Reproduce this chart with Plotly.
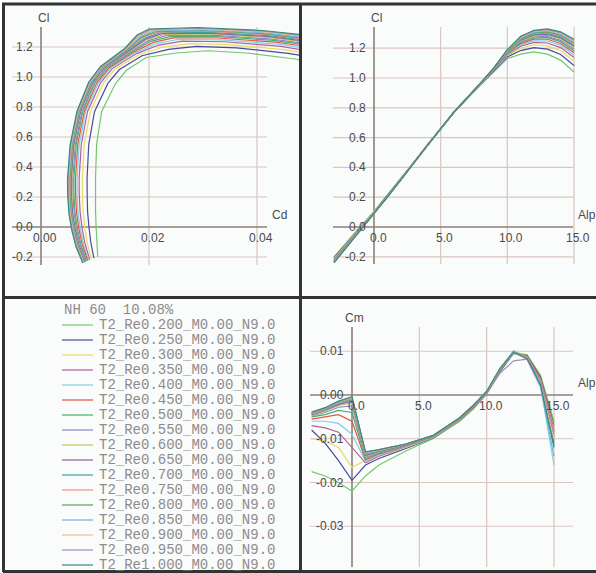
import plotly.graph_objects as go

W, H = 596, 573

# ---------------- data ----------------
FOIL_NAME = "NH 60  10.08%"
POLAR_NAMES = [
    "T2_Re0.200_M0.00_N9.0", "T2_Re0.250_M0.00_N9.0", "T2_Re0.300_M0.00_N9.0",
    "T2_Re0.350_M0.00_N9.0", "T2_Re0.400_M0.00_N9.0", "T2_Re0.450_M0.00_N9.0",
    "T2_Re0.500_M0.00_N9.0", "T2_Re0.550_M0.00_N9.0", "T2_Re0.600_M0.00_N9.0",
    "T2_Re0.650_M0.00_N9.0", "T2_Re0.700_M0.00_N9.0", "T2_Re0.750_M0.00_N9.0",
    "T2_Re0.800_M0.00_N9.0", "T2_Re0.850_M0.00_N9.0", "T2_Re0.900_M0.00_N9.0",
    "T2_Re0.950_M0.00_N9.0", "T2_Re1.000_M0.00_N9.0",
]
COLORS = [
    "#74c86c", "#4a4a9c", "#e6dc6a", "#b0609a", "#7ccfe6", "#e0583e",
    "#4cae72", "#8a88cc", "#c4c85c", "#9060b0", "#3ea0a0", "#f09088",
    "#56a656", "#6eaee6", "#f0c08a", "#a090b8", "#3a8a7a",
]

ALPHA = [-3, -2, -1, 0, 1, 2, 4, 6, 8, 9, 10, 11, 12, 13, 14, 15]

CL = [
    [-0.200, -0.095, 0.005, 0.105, 0.215, 0.325, 0.552, 0.768, 0.955, 1.045, 1.130, 1.160, 1.175, 1.160, 1.120, 1.040],
    [-0.208, -0.102, 0.000, 0.101, 0.212, 0.323, 0.551, 0.769, 0.957, 1.050, 1.142, 1.184, 1.204, 1.194, 1.158, 1.084],
    [-0.213, -0.107, -0.003, 0.098, 0.210, 0.322, 0.551, 0.769, 0.958, 1.053, 1.150, 1.200, 1.223, 1.216, 1.183, 1.113],
    [-0.218, -0.110, -0.006, 0.096, 0.208, 0.321, 0.550, 0.770, 0.959, 1.056, 1.156, 1.213, 1.239, 1.235, 1.204, 1.137],
    [-0.221, -0.113, -0.008, 0.095, 0.207, 0.320, 0.550, 0.770, 0.960, 1.058, 1.161, 1.222, 1.250, 1.248, 1.219, 1.154],
    [-0.224, -0.116, -0.010, 0.093, 0.206, 0.319, 0.550, 0.770, 0.961, 1.060, 1.165, 1.231, 1.261, 1.260, 1.232, 1.170],
    [-0.226, -0.118, -0.011, 0.092, 0.205, 0.319, 0.549, 0.771, 0.962, 1.061, 1.169, 1.238, 1.269, 1.271, 1.244, 1.183],
    [-0.228, -0.120, -0.013, 0.091, 0.205, 0.318, 0.549, 0.771, 0.962, 1.063, 1.172, 1.244, 1.277, 1.279, 1.253, 1.194],
    [-0.230, -0.121, -0.014, 0.090, 0.204, 0.318, 0.549, 0.771, 0.962, 1.064, 1.175, 1.249, 1.283, 1.287, 1.262, 1.204],
    [-0.231, -0.122, -0.015, 0.089, 0.203, 0.317, 0.549, 0.771, 0.963, 1.065, 1.177, 1.254, 1.289, 1.293, 1.269, 1.213],
    [-0.233, -0.124, -0.016, 0.089, 0.203, 0.317, 0.549, 0.771, 0.963, 1.066, 1.179, 1.258, 1.294, 1.299, 1.276, 1.220],
    [-0.234, -0.125, -0.016, 0.088, 0.202, 0.316, 0.549, 0.771, 0.964, 1.066, 1.181, 1.263, 1.299, 1.305, 1.282, 1.228],
    [-0.235, -0.126, -0.017, 0.087, 0.202, 0.316, 0.548, 0.772, 0.964, 1.067, 1.183, 1.266, 1.303, 1.310, 1.288, 1.235],
    [-0.237, -0.127, -0.018, 0.087, 0.201, 0.316, 0.548, 0.772, 0.964, 1.068, 1.185, 1.270, 1.308, 1.316, 1.294, 1.241],
    [-0.238, -0.128, -0.019, 0.086, 0.201, 0.316, 0.548, 0.772, 0.964, 1.069, 1.187, 1.273, 1.312, 1.321, 1.300, 1.248],
    [-0.239, -0.129, -0.019, 0.086, 0.200, 0.315, 0.548, 0.772, 0.965, 1.069, 1.188, 1.277, 1.316, 1.325, 1.305, 1.254],
    [-0.240, -0.130, -0.020, 0.085, 0.200, 0.315, 0.548, 0.772, 0.965, 1.070, 1.190, 1.280, 1.320, 1.330, 1.310, 1.260],
]

CD = [
    [0.01051, 0.01030, 0.01020, 0.01010, 0.01010, 0.01010, 0.01030, 0.01122, 0.01377, 0.01581, 0.0195, 0.0250, 0.0310, 0.0380, 0.0470, 0.0580],
    [0.00980, 0.00922, 0.00888, 0.00863, 0.00855, 0.00853, 0.00884, 0.00991, 0.01238, 0.01453, 0.0187, 0.0236, 0.0288, 0.0362, 0.0458, 0.0572],
    [0.00933, 0.00856, 0.00811, 0.00780, 0.00768, 0.00765, 0.00801, 0.00913, 0.01154, 0.01371, 0.0182, 0.0226, 0.0274, 0.0350, 0.0450, 0.0567],
    [0.00903, 0.00814, 0.00760, 0.00725, 0.00709, 0.00706, 0.00746, 0.00862, 0.01099, 0.01319, 0.0177, 0.0218, 0.0262, 0.0340, 0.0444, 0.0562],
    [0.00882, 0.00785, 0.00726, 0.00687, 0.00670, 0.00667, 0.00708, 0.00827, 0.01061, 0.01282, 0.0174, 0.0213, 0.0253, 0.0333, 0.0439, 0.0559],
    [0.00867, 0.00764, 0.00700, 0.00660, 0.00641, 0.00637, 0.00680, 0.00802, 0.01034, 0.01256, 0.0171, 0.0208, 0.0245, 0.0327, 0.0435, 0.0556],
    [0.00847, 0.00739, 0.00673, 0.00632, 0.00612, 0.00608, 0.00652, 0.00774, 0.01002, 0.01223, 0.0169, 0.0203, 0.0239, 0.0322, 0.0431, 0.0554],
    [0.00835, 0.00724, 0.00656, 0.00613, 0.00592, 0.00588, 0.00633, 0.00756, 0.00982, 0.01204, 0.0167, 0.0200, 0.0233, 0.0317, 0.0428, 0.0552],
    [0.00821, 0.00707, 0.00638, 0.00594, 0.00573, 0.00568, 0.00614, 0.00738, 0.00960, 0.01181, 0.0165, 0.0196, 0.0228, 0.0313, 0.0425, 0.0550],
    [0.00819, 0.00702, 0.00631, 0.00585, 0.00563, 0.00559, 0.00605, 0.00730, 0.00954, 0.01176, 0.0164, 0.0194, 0.0224, 0.0309, 0.0423, 0.0549],
    [0.00815, 0.00695, 0.00622, 0.00576, 0.00553, 0.00549, 0.00596, 0.00722, 0.00945, 0.01168, 0.0162, 0.0191, 0.0220, 0.0306, 0.0421, 0.0547],
    [0.00810, 0.00689, 0.00614, 0.00567, 0.00544, 0.00539, 0.00587, 0.00714, 0.00937, 0.01160, 0.0161, 0.0188, 0.0216, 0.0303, 0.0419, 0.0546],
    [0.00804, 0.00681, 0.00605, 0.00558, 0.00534, 0.00529, 0.00578, 0.00705, 0.00926, 0.01150, 0.0160, 0.0186, 0.0213, 0.0300, 0.0417, 0.0545],
    [0.00797, 0.00673, 0.00596, 0.00548, 0.00524, 0.00519, 0.00568, 0.00696, 0.00916, 0.01139, 0.0158, 0.0184, 0.0209, 0.0298, 0.0415, 0.0543],
    [0.00791, 0.00665, 0.00587, 0.00539, 0.00515, 0.00509, 0.00558, 0.00686, 0.00905, 0.01128, 0.0157, 0.0182, 0.0206, 0.0295, 0.0413, 0.0542],
    [0.00783, 0.00656, 0.00578, 0.00529, 0.00505, 0.00500, 0.00549, 0.00677, 0.00894, 0.01116, 0.0156, 0.0180, 0.0203, 0.0292, 0.0412, 0.0541],
    [0.00774, 0.00647, 0.00568, 0.00519, 0.00495, 0.00490, 0.00539, 0.00666, 0.00882, 0.01103, 0.0155, 0.0178, 0.0200, 0.0290, 0.0410, 0.0540],
]

CM = [
    [-0.0175, -0.0185, -0.0200, -0.0220, -0.0185, -0.0160, -0.0128, -0.0100, -0.0060, -0.0032, 0.0002, 0.0052, 0.0098, 0.0092, 0.0045, -0.0060],
    [-0.0080, -0.0110, -0.0150, -0.0195, -0.0160, -0.0145, -0.0122, -0.0098, -0.0058, -0.0030, 0.0004, 0.0055, 0.0095, 0.0090, 0.0040, -0.0070],
    [-0.0100, -0.0105, -0.0120, -0.0165, -0.0150, -0.0140, -0.0120, -0.0097, -0.0057, -0.0029, 0.0005, 0.0057, 0.0100, 0.0088, 0.0035, -0.0075],
    [-0.0070, -0.0075, -0.0085, -0.0120, -0.0155, -0.0140, -0.0118, -0.0096, -0.0056, -0.0028, 0.0005, 0.0058, 0.0099, 0.0086, 0.0030, -0.0085],
    [-0.0060, -0.0060, -0.0065, -0.0090, -0.0150, -0.0138, -0.0117, -0.0096, -0.0055, -0.0027, 0.0006, 0.0059, 0.0101, 0.0084, 0.0022, -0.0160],
    [-0.0055, -0.0050, -0.0045, -0.0060, -0.0148, -0.0135, -0.0116, -0.0095, -0.0055, -0.0027, 0.0006, 0.0059, 0.0097, 0.0088, 0.0038, -0.0080],
    [-0.0050, -0.0045, -0.0035, -0.0040, -0.0145, -0.0133, -0.0115, -0.0095, -0.0054, -0.0026, 0.0007, 0.0060, 0.0100, 0.0083, 0.0025, -0.0100],
    [-0.0048, -0.0040, -0.0028, -0.0025, -0.0142, -0.0132, -0.0115, -0.0094, -0.0054, -0.0026, 0.0007, 0.0060, 0.0098, 0.0085, 0.0028, -0.0095],
    [-0.0046, -0.0037, -0.0024, -0.0018, -0.0140, -0.0130, -0.0114, -0.0094, -0.0053, -0.0025, 0.0007, 0.0060, 0.0096, 0.0086, 0.0030, -0.0090],
    [-0.0045, -0.0035, -0.0022, -0.0014, -0.0138, -0.0129, -0.0114, -0.0094, -0.0053, -0.0025, 0.0007, 0.0060, 0.0099, 0.0082, 0.0024, -0.0105],
    [-0.0044, -0.0034, -0.0020, -0.0011, -0.0136, -0.0128, -0.0113, -0.0094, -0.0053, -0.0025, 0.0008, 0.0061, 0.0097, 0.0084, 0.0026, -0.0110],
    [-0.0043, -0.0033, -0.0019, -0.0009, -0.0135, -0.0127, -0.0113, -0.0093, -0.0053, -0.0025, 0.0008, 0.0061, 0.0095, 0.0087, 0.0032, -0.0085],
    [-0.0042, -0.0032, -0.0018, -0.0008, -0.0134, -0.0127, -0.0113, -0.0093, -0.0052, -0.0024, 0.0008, 0.0061, 0.0098, 0.0083, 0.0022, -0.0115],
    [-0.0041, -0.0031, -0.0017, -0.0007, -0.0133, -0.0126, -0.0112, -0.0093, -0.0052, -0.0024, 0.0008, 0.0061, 0.0100, 0.0081, 0.0018, -0.0140],
    [-0.0041, -0.0030, -0.0016, -0.0006, -0.0132, -0.0126, -0.0112, -0.0093, -0.0052, -0.0024, 0.0008, 0.0061, 0.0096, 0.0085, 0.0027, -0.0100],
    [-0.0040, -0.0030, -0.0015, -0.0005, -0.0131, -0.0125, -0.0112, -0.0093, -0.0052, -0.0024, 0.0006, 0.0050, 0.0078, 0.0082, 0.0035, -0.0090],
    [-0.0039, -0.0029, -0.0014, -0.0004, -0.0130, -0.0125, -0.0112, -0.0093, -0.0052, -0.0024, 0.0008, 0.0061, 0.0097, 0.0084, 0.0024, -0.0120],
]

CD_TICKS = [0.00, 0.02, 0.04]
CD_TICK_TEXT = ["0.00", "0.02", "0.04"]
CL_TICKS = [-0.2, 0.0, 0.2, 0.4, 0.6, 0.8, 1.0, 1.2]
CL_TICK_TEXT = ["-0.2", "0.0", "0.2", "0.4", "0.6", "0.8", "1.0", "1.2"]
ALPHA_TICKS = [0, 5, 10, 15]
ALPHA_TICK_TEXT = ["0.0", "5.0", "10.0", "15.0"]
CM_TICKS = [-0.03, -0.02, -0.01, 0.0, 0.01]
CM_TICK_TEXT = ["-0.03", "-0.02", "-0.01", "0.00", "0.01"]

# ---------------- layout geometry (pixels) ----------------
PANELS = {
    "tl": dict(ax="", box=(5, 6, 299, 296), ox=41, sx=5400.0, oy=227, sy=150.0,
               gx=(12, 267), gy=(27, 265), xt=CD_TICKS, xtt=CD_TICK_TEXT,
               yt=CL_TICKS, ytt=CL_TICK_TEXT, xtitle="Cd", ytitle="Cl"),
    "tr": dict(ax="2", box=(302, 6, 596, 296), ox=374, sx=200 / 15.0, oy=227, sy=149.0,
               gx=(333, 573), gy=(27, 264), xt=ALPHA_TICKS, xtt=ALPHA_TICK_TEXT,
               yt=CL_TICKS, ytt=CL_TICK_TEXT, xtitle="Alp", ytitle="Cl"),
    "br": dict(ax="3", box=(302, 299, 596, 570), ox=352, sx=202 / 15.0, oy=395, sy=4375.0,
               gx=(310, 573), gy=(327, 567), xt=ALPHA_TICKS, xtt=ALPHA_TICK_TEXT,
               yt=CM_TICKS, ytt=CM_TICK_TEXT, xtitle="Alp", ytitle="Cm"),
}
LEG_BOX = (5, 299, 299, 570)

GRID_COLOR = "#d8c6be"
AXIS_COLOR = "#8c8078"
TICK_FONT = dict(family="Liberation Sans", size=12, color="#4a4a4a")
LEG_FONT = dict(family="Liberation Mono", size=14, color="#8c8c8c")


def vx(p, px):
    return (px - p["ox"]) / p["sx"]


def vy(p, py):
    return (p["oy"] - py) / p["sy"]


fig = go.Figure()
layout = dict(width=W, height=H, margin=dict(l=0, r=0, t=0, b=0),
              paper_bgcolor="white", plot_bgcolor="#fafbfb", showlegend=False)
shapes, annotations = [], []

for key, p in PANELS.items():
    a = p["ax"]
    x0, y0, x1, y1 = p["box"]
    layout["xaxis" + a] = dict(domain=[x0 / W, x1 / W], range=[vx(p, x0), vx(p, x1)],
                               visible=False, anchor="y" + a, fixedrange=True)
    layout["yaxis" + a] = dict(domain=[1 - y1 / H, 1 - y0 / H], range=[vy(p, y1), vy(p, y0)],
                               visible=False, anchor="x" + a, fixedrange=True)
    xr, yr = "x" + a, "y" + a
    gx0, gx1 = vx(p, p["gx"][0]), vx(p, p["gx"][1])
    gy0, gy1 = vy(p, p["gy"][1]), vy(p, p["gy"][0])
    for t in p["yt"]:
        if t != 0:
            shapes.append(dict(type="line", xref=xr, yref=yr, x0=gx0, x1=gx1, y0=t, y1=t,
                               line=dict(color=GRID_COLOR, width=1.2), layer="below"))
    for t in p["xt"]:
        if t != 0:
            shapes.append(dict(type="line", xref=xr, yref=yr, x0=t, x1=t, y0=gy0, y1=gy1,
                               line=dict(color=GRID_COLOR, width=1.2), layer="below"))
    # axes
    shapes.append(dict(type="line", xref=xr, yref=yr, x0=gx0, x1=gx1, y0=0, y1=0,
                       line=dict(color=AXIS_COLOR, width=1.6), layer="below"))
    shapes.append(dict(type="line", xref=xr, yref=yr, x0=0, x1=0, y0=gy0, y1=gy1,
                       line=dict(color=AXIS_COLOR, width=1.6), layer="below"))
    # tick labels
    for t, s in zip(p["yt"], p["ytt"]):
        annotations.append(dict(xref=xr, yref=yr, x=0, y=t, text=s, showarrow=False,
                                xanchor="right", yanchor="middle", xshift=-6, font=TICK_FONT))
    for t, s in zip(p["xt"], p["xtt"]):
        annotations.append(dict(xref=xr, yref=yr, x=t, y=0, text=s, showarrow=False,
                                xanchor="center", yanchor="top", xshift=4, yshift=-2,
                                font=TICK_FONT))
    annotations.append(dict(xref=xr, yref=yr, x=0, y=gy1, text=p["ytitle"], showarrow=False,
                            xanchor="center", yanchor="bottom", xshift=2, yshift=0,
                            font=TICK_FONT))
    annotations.append(dict(xref=xr, yref=yr, x=gx1, y=0, text=p["xtitle"], showarrow=False,
                            xanchor="left", yanchor="bottom", xshift=3, yshift=3,
                            font=TICK_FONT))

# legend panel axes (pixel coordinates)
lx0, ly0, lx1, ly1 = LEG_BOX
layout["xaxis4"] = dict(domain=[lx0 / W, lx1 / W], range=[lx0, lx1], visible=False,
                        anchor="y4", fixedrange=True)
layout["yaxis4"] = dict(domain=[1 - ly1 / H, 1 - ly0 / H], range=[ly1, ly0], visible=False,
                        anchor="x4", fixedrange=True)

# curves
for i in range(len(POLAR_NAMES)):
    line = dict(color=COLORS[i], width=1.2)
    fig.add_trace(go.Scatter(x=CD[i], y=CL[i], mode="lines", line=line, xaxis="x", yaxis="y",
                             name=POLAR_NAMES[i], hoverinfo="skip"))
    fig.add_trace(go.Scatter(x=ALPHA, y=CL[i], mode="lines", line=line, xaxis="x2", yaxis="y2",
                             name=POLAR_NAMES[i], hoverinfo="skip"))
    fig.add_trace(go.Scatter(x=ALPHA, y=CM[i], mode="lines", line=line, xaxis="x3", yaxis="y3",
                             name=POLAR_NAMES[i], hoverinfo="skip"))

# custom legend
LEG_SAMPLE_X = (62, 93)
LEG_TEXT_X = 97
LEG_HEADER_Y = 310
LEG_FIRST_Y = 325
LEG_STEP = 15
annotations.append(dict(xref="x4", yref="y4", x=LEG_SAMPLE_X[0], y=LEG_HEADER_Y, text=FOIL_NAME,
                        showarrow=False, xanchor="left", yanchor="middle", font=LEG_FONT))
for i, name in enumerate(POLAR_NAMES):
    yy = LEG_FIRST_Y + LEG_STEP * i
    fig.add_trace(go.Scatter(x=list(LEG_SAMPLE_X), y=[yy, yy], mode="lines",
                             line=dict(color=COLORS[i], width=1.2), xaxis="x4", yaxis="y4",
                             hoverinfo="skip"))
    annotations.append(dict(xref="x4", yref="y4", x=LEG_TEXT_X, y=yy, text=name,
                            showarrow=False, xanchor="left", yanchor="middle", font=LEG_FONT))

# frame
FRAME = "#333333"
for (x0, y0, x1, y1) in [(2, 4, 596, 4), (3.5, 4, 3.5, 572), (300.5, 4, 300.5, 572),
                         (3, 297.5, 596, 297.5), (3, 571.5, 596, 571.5)]:
    shapes.append(dict(type="line", xref="paper", yref="paper", x0=x0 / W, x1=x1 / W,
                       y0=1 - y0 / H, y1=1 - y1 / H, line=dict(color=FRAME, width=3),
                       layer="above"))

layout["shapes"] = shapes
layout["annotations"] = annotations
fig.update_layout(**layout)
fig.write_html("out.html", config={"displayModeBar": False, "staticPlot": True},
               post_script="document.body.style.margin='0';document.body.style.overflow='hidden';")
